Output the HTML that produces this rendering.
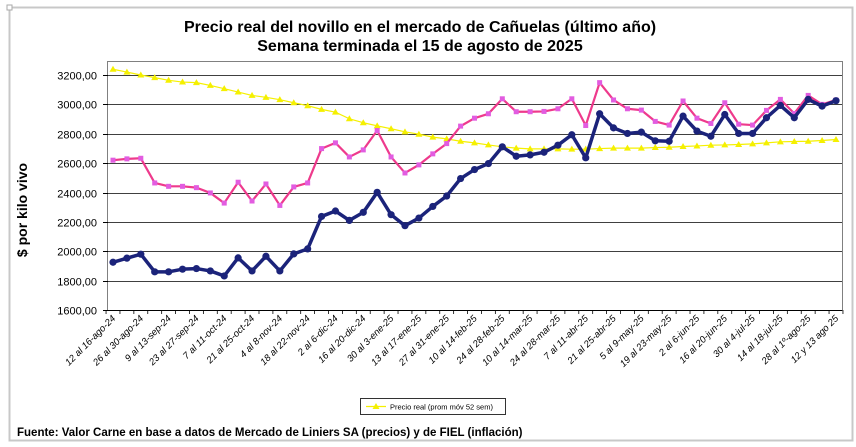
<!DOCTYPE html>
<html><head><meta charset="utf-8"><style>
html,body{margin:0;padding:0;background:#fff;}
svg{display:block;font-family:"Liberation Sans",Arial,sans-serif;}
</style></head><body>
<svg id="chart" width="856" height="447" viewBox="0 0 856 447">
<rect x="9.5" y="7.5" width="843" height="433" fill="#fff" stroke="#c8c8c8" stroke-width="2"/>
<rect x="7" y="5" width="5" height="5" fill="#fff" stroke="#aaa"/>
<text x="420" y="32" text-anchor="middle" font-size="16" font-weight="bold">Precio real del novillo en el mercado de Cañuelas (último año)</text>
<text x="420" y="51" text-anchor="middle" font-size="16" font-weight="bold">Semana terminada el 15 de agosto de 2025</text>
<rect x="107.5" y="61.5" width="735" height="249" fill="#fff" stroke="#808080"/>
<g id="grid"></g>
<g id="yaxis"></g>
<g id="xaxis"></g>
<g id="series"></g>
<text transform="translate(27,210) rotate(-90)" text-anchor="middle" font-size="14" font-weight="bold">$ por kilo vivo</text>
<g>
<rect x="360.5" y="398.5" width="145" height="16" fill="#fff" stroke="#000" stroke-width="0.8"/>
<line x1="366" y1="406.5" x2="386" y2="406.5" stroke="#f5f000" stroke-width="1.2"/>
<polygon points="376,403 379.5,409 372.5,409" fill="#f5f000"/>
<text x="390" y="409.5" font-size="7.5">Precio real (prom móv 52 sem)</text>
</g>
<text x="17" y="436" font-size="11.5" font-weight="bold">Fuente: Valor Carne en base a datos de Mercado de Liniers SA (precios) y de FIEL (inflación)</text>
</svg>
<script>
const yTicks=[1600,1800,2000,2200,2400,2600,2800,3000,3200];
const xLabels=["12 al 16-ago-24","26 al 30-ago-24","9 al 13-sep-24","23 al 27-sep-24","7 al 11-oct-24","21 al 25-oct-24","4 al 8-nov-24","18 al 22-nov-24","2 al 6-dic-24","16 al 20-dic-24","30 al 3-ene-25","13 al 17-ene-25","27 al 31-ene-25","10 al 14-feb-25","24 al 28-feb-25","10 al 14-mar-25","24 al 28-mar-25","7 al 11-abr-25","21 al 25-abr-25","5 al 9-may-25","19 al 23-may-25","2 al 6-jun-25","16 al 20-jun-25","30 al 4-jul-25","14 al 18-jul-25","28 al 1º-ago-25","12 y 13 ago 25"];
const precioReal=[1925,1953,1980,1860,1860,1878,1882,1866,1832,1955,1866,1966,1866,1982,2016,2237,2274,2210,2265,2401,2249,2174,2226,2305,2376,2495,2556,2597,2711,2647,2656,2674,2722,2793,2636,2936,2840,2802,2811,2752,2749,2920,2818,2783,2931,2802,2802,2909,2993,2909,3034,2988,3025];
const precioNominal=[2620,2629,2633,2465,2442,2442,2433,2397,2328,2470,2342,2458,2312,2438,2465,2699,2738,2642,2690,2822,2642,2533,2588,2663,2733,2852,2906,2936,3038,2950,2950,2952,2970,3038,2856,3148,3030,2970,2961,2884,2859,3023,2906,2870,3011,2865,2859,2959,3034,2938,3061,3000,3030];
const promMovil=[3239,3220,3200,3182,3164,3152,3148,3129,3107,3084,3061,3048,3032,3011,2991,2966,2947,2902,2875,2854,2834,2813,2797,2777,2765,2749,2738,2724,2711,2702,2697,2697,2697,2695,2695,2699,2702,2702,2702,2706,2708,2713,2717,2722,2724,2727,2731,2738,2745,2747,2749,2754,2761];
const NS='http://www.w3.org/2000/svg';
const X0=113,X1=836,Y0=310,Y1=75,VMIN=1600,VMAX=3200;
const n=precioReal.length;
function xs(i){return X0+i*(X1-X0)/(n-1);}
function ys(v){return Y0-(v-VMIN)*(Y0-Y1)/(VMAX-VMIN);}
function mk(tag,attrs,parent){const e=document.createElementNS(NS,tag);for(const k in attrs)e.setAttribute(k,attrs[k]);parent.appendChild(e);return e;}
const grid=document.getElementById('grid'),ya=document.getElementById('yaxis'),xa=document.getElementById('xaxis'),ser=document.getElementById('series');
yTicks.forEach(t=>{
  const y=Math.round(ys(t))+0.5;
  if(t>VMIN){const g=mk('line',{x1:108,x2:842,y1:y,y2:y,stroke:'#000','stroke-width':0.8},grid);
  
  }
  mk('line',{x1:103,x2:108,y1:y,y2:y,stroke:'#000'},ya);
  const tx=mk('text',{x:97,y:y+4,'text-anchor':'end','font-size':11},ya);
  tx.textContent=t.toFixed(2).replace('.',',');
  
  
});
mk('line',{x1:108,x2:842,y1:310.5,y2:310.5,stroke:'#000'},xa);
for(let i=0;i<=n;i++){const x=X0-6.95+i*(X1-X0)/(n-1);mk('line',{x1:x,x2:x,y1:310,y2:314,stroke:'#000','stroke-width':0.8},xa);}
xLabels.forEach((l,k)=>{
  const x=xs(k*2);
  const t=mk('text',{transform:`translate(${x+3},${319}) rotate(-45)`,'text-anchor':'end','font-size':9.5,'font-style':'italic'},xa);
  t.textContent=l;
  
  
});
function line(arr,color,w,name){
  const p=mk('polyline',{points:arr.map((v,i)=>xs(i)+','+ys(v)).join(' '),fill:'none',stroke:color,'stroke-width':w,'stroke-linejoin':'round'},ser);
  
  
}
line(promMovil,'#f5f000',1.2,'series-prom-movil');
promMovil.forEach((v,i)=>{const x=xs(i),y=ys(v);
  const m=mk('polygon',{points:`${x},${y-3.5} ${x+3.5},${y+2.5} ${x-3.5},${y+2.5}`,fill:'#f5f000'},ser);
  
  });
line(precioNominal,'#ee3a8c',2.2,'series-precio-nominal');
precioNominal.forEach((v,i)=>{const x=xs(i),y=ys(v);
  const m=mk('rect',{x:x-2.5,y:y-2.5,width:5,height:5,fill:'#e25ce0'},ser);
  
  });
line(precioReal,'#1b237a',3.5,'series-precio-real');
precioReal.forEach((v,i)=>{const x=xs(i),y=ys(v);
  const m=mk('circle',{cx:x,cy:y,r:3.6,fill:'#1b237a'},ser);
  
  });
</script>
</body></html>
